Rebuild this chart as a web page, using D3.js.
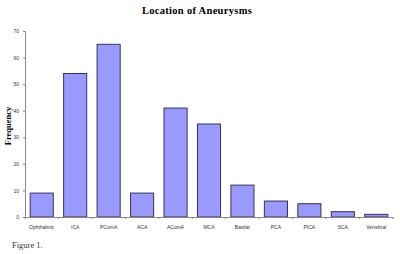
<!DOCTYPE html>
<html>
<head>
<meta charset="utf-8">
<script src="https://cdn.jsdelivr.net/npm/d3@7"></script>
<style>
  body { margin: 0; background: #fff; }
  svg { display: block; }
</style>
</head>
<body>
<svg id="chart" width="400" height="254"></svg>
<script>
var categories = ["Ophthalmic", "ICA", "PComA", "ACA", "AComA", "MCA", "Basilar", "PCA", "PICA", "SCA", "Vertebral"];
var frequency = [9, 54, 65, 9, 41, 35, 12, 6, 5, 2, 1];
var yTicks = [0, 10, 20, 30, 40, 50, 60, 70];

var svg = d3.select("#chart");
var plotLeft = 25, plotRight = 393, plotTop = 31, plotBottom = 217;

var x = d3.scaleBand()
    .domain(categories)
    .range([plotLeft, plotRight])
    .paddingInner(0.31)
    .paddingOuter(0.155);

var y = d3.scaleLinear()
    .domain([0, 70])
    .range([plotBottom, plotTop]);

// title
svg.append("text")
    .attr("x", 197)
    .attr("y", 14)
    .attr("text-anchor", "middle")
    .style("font-family", "Liberation Serif, serif")
    .style("font-size", "10.5px")
    .style("font-weight", "bold")
    .style("letter-spacing", "0.3px")
    .text("Location of Aneurysms");

// bars
svg.selectAll(".bar")
    .data(frequency)
    .enter().append("rect")
    .attr("class", "bar")
    .attr("x", (d, i) => x(categories[i]))
    .attr("y", d => y(d))
    .attr("width", x.bandwidth())
    .attr("height", d => y(0) - y(d))
    .style("fill", "#9999ff")
    .style("stroke", "#33335a")
    .style("stroke-width", 1);

// y axis
var yAxis = svg.append("g")
    .attr("transform", "translate(" + plotLeft + ",0)")
    .call(d3.axisLeft(y).tickValues(yTicks).tickSize(2).tickPadding(4));

// x axis with ticks between categories
var step = x.step();
var xTickPos = d3.range(categories.length + 1).map(i => plotLeft + i * step);
var xAxis = svg.append("g")
    .attr("transform", "translate(0," + plotBottom + ")")
    .call(d3.axisBottom(x).tickSize(0).tickPadding(8));
xAxis.selectAll(".sep")
    .data(xTickPos)
    .enter().append("line")
    .attr("class", "sep")
    .attr("x1", d => d).attr("x2", d => d)
    .attr("y1", 0).attr("y2", 2)
    .attr("stroke", "#888");

[yAxis, xAxis].forEach(function (g) {
    g.select(".domain").attr("stroke", "#888");
    g.selectAll(".tick line").attr("stroke", "#888");
    g.selectAll("text")
        .style("font-family", "Liberation Sans, Arial, sans-serif")
        .style("font-size", "5px")
        .attr("fill", "#333");
});

// y label
svg.append("text")
    .attr("transform", "translate(11,126) rotate(-90)")
    .attr("text-anchor", "middle")
    .style("font-family", "Liberation Serif, serif")
    .style("font-size", "8.5px")
    .style("font-weight", "bold")
    .text("Frequency");

// caption
svg.append("text")
    .attr("x", 12)
    .attr("y", 248)
    .style("font-family", "Liberation Serif, serif")
    .style("font-size", "8.5px")
    .attr("fill", "#333")
    .text("Figure 1.");
</script>
</body>
</html>
